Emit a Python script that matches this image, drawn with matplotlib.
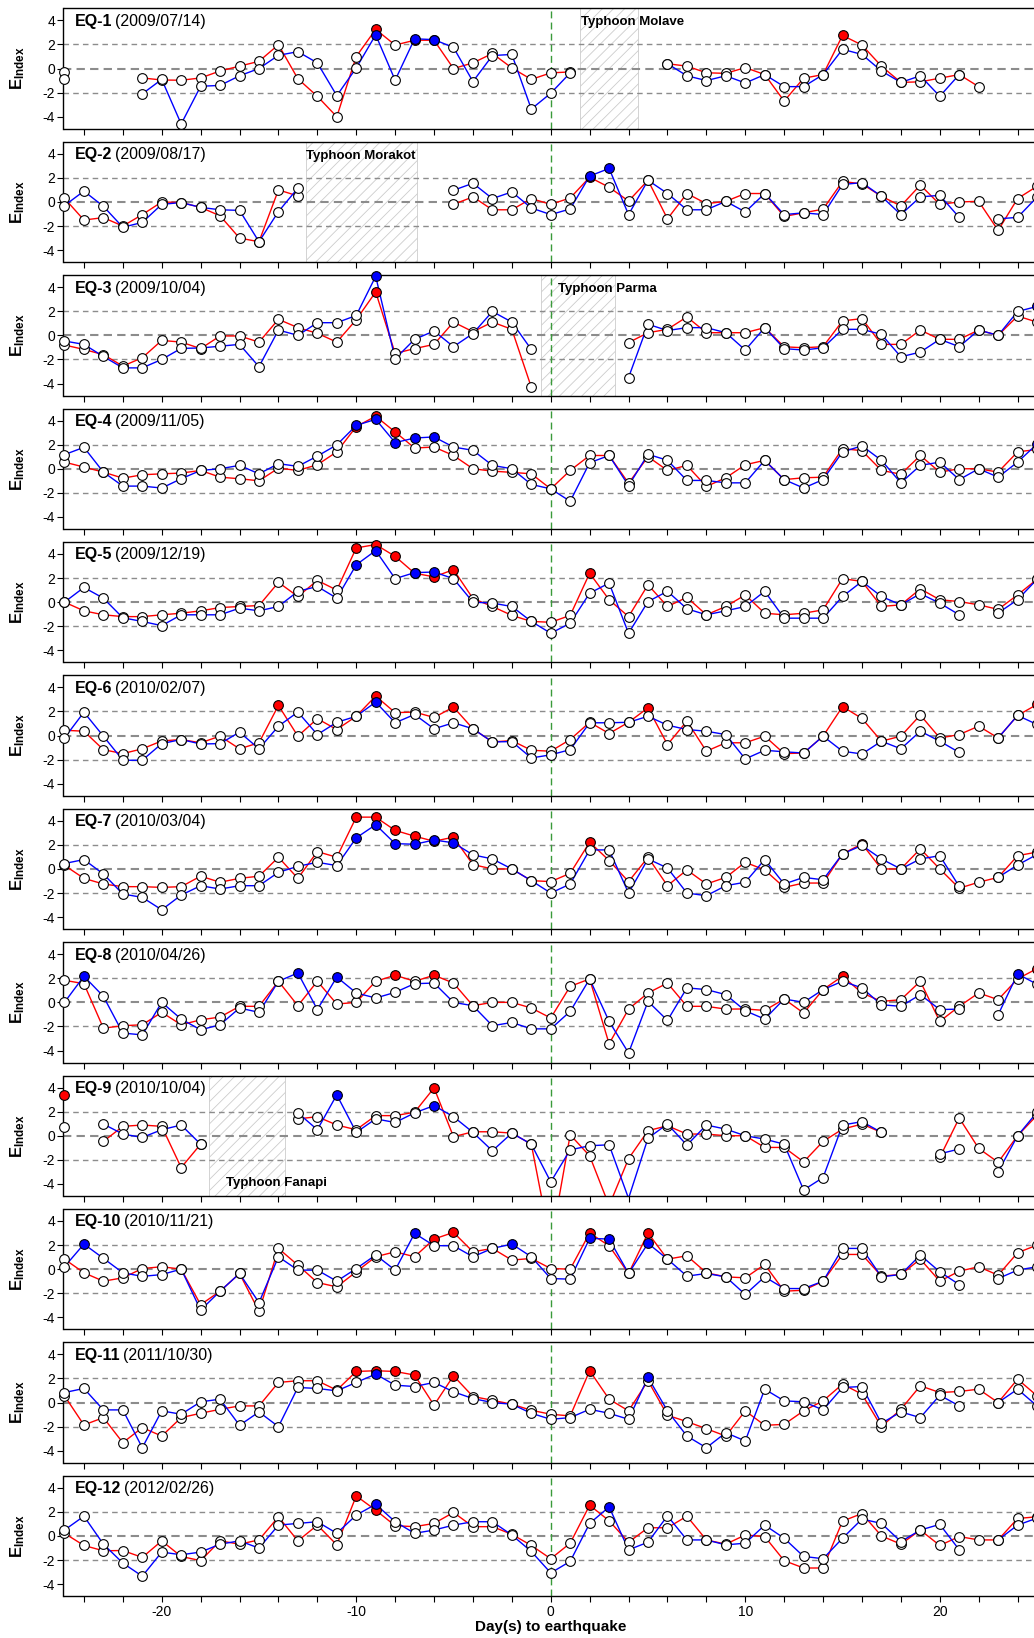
import numpy as np
import matplotlib.pyplot as plt
from matplotlib.patches import Rectangle

plt.rcParams['font.family'] = ['Liberation Sans', 'DejaVu Sans']
plt.rcParams['mathtext.fontset'] = 'custom'
plt.rcParams['mathtext.rm'] = 'Liberation Sans'
plt.rcParams['mathtext.bf'] = 'Liberation Sans:bold'
plt.rcParams['axes.unicode_minus'] = False
plt.rcParams['hatch.linewidth'] = 0.6

nan = np.nan
days = np.arange(-25, 26)

eq_names = ['EQ-1', 'EQ-2', 'EQ-3', 'EQ-4', 'EQ-5', 'EQ-6',
            'EQ-7', 'EQ-8', 'EQ-9', 'EQ-10', 'EQ-11', 'EQ-12']
eq_dates = ['2009/07/14', '2009/08/17', '2009/10/04', '2009/11/05', '2009/12/19', '2010/02/07',
            '2010/03/04', '2010/04/26', '2010/10/04', '2010/11/21', '2011/10/30', '2012/02/26']

# values for days -25 ... 25
eq1_red = [-0.3, nan, nan, nan, -0.78, -0.95, -0.97, -0.78, -0.2, 0.2, 0.6, 1.98, -0.85, -2.3, -4.0, 1.0,
           3.25, 1.95, 2.35, 2.35, 0.0, 0.47, 1.25, 0.05, -0.9, -0.36, -0.28, nan, nan, nan, nan,
           0.4, 0.2, -0.35, -0.4, 0.08, -0.5, -2.7, -0.8, -0.5, 2.75, 1.95, 0.2, -1.15, -1.1, -0.8, -0.5, -1.5,
           nan, nan, nan]
eq1_blue = [-0.85, nan, nan, nan, -2.1, -0.9, -4.6, -1.47, -1.4, -0.6, 0.0, 1.1, 1.4, 0.47, -2.25, 0.05,
            2.8, -0.97, 2.47, 2.4, 1.75, -1.08, 1.08, 1.17, -3.36, -2.05, -0.36, nan, nan, nan, nan,
            0.4, -0.6, -1.0, -0.6, -1.2, -0.5, -1.5, -1.5, -0.5, 1.6, 1.17, -0.2, -1.15, -0.6, -2.3, -0.5, nan,
            nan, nan, nan]

eq2_red = [0.3, -1.5, -1.3, -2.0, -1.05, 0.0, -0.05, -0.45, -1.15, -3.0, -3.3, 1.0, 0.5,
           nan, nan, nan, nan, nan, nan, nan, -0.2, 0.42, -0.65, -0.65, 0.28, -0.2, 0.33,
           2.05, 1.22, 0.08, 1.8, -1.4, 0.7, -0.14, 0.05, 0.7, 0.7, -1.2, -0.9, -0.6, 1.7, 1.5, 0.47,
           -0.33, 1.4, -0.2, 0.0, 0.05, -2.36, 0.28, 1.3]
eq2_blue = [-0.3, 0.9, -0.36, -2.1, -1.7, -0.2, -0.05, -0.45, -0.65, -0.7, -3.3, -0.8, 1.15,
            nan, nan, nan, nan, nan, nan, nan, 0.97, 1.55, 0.28, 0.83, -0.5, -1.05, -0.58,
            2.15, 2.78, -1.05, 1.8, 0.7, -0.65, -0.65, 0.05, -0.83, 0.7, -1.05, -0.9, -1.05, 1.45, 1.6, 0.47,
            -1.05, 0.42, 0.55, -1.28, nan, -1.4, -1.28, 0.4]

eq3_red = [-0.8, -1.17, -1.6, -2.55, -1.86, -0.42, -0.56, -1.1, -0.05, -0.05, -0.56, 1.33, 0.64, 0.17,
           -0.56, 1.3, 3.6, -1.5, -1.1, -0.75, 1.1, 0.3, 1.1, 0.5, -4.3, nan, nan, nan, nan,
           -0.6, 0.22, 0.5, 1.53, 0.22, 0.22, 0.22, 0.64, -0.95, -1.03, -0.94, 1.2, 1.39, -0.75, -0.75,
           0.44, -0.33, -0.33, 0.44, 0.0, 1.6, 1.1]
eq3_blue = [-0.47, -0.75, -1.75, -2.7, -2.7, -2.0, -1.08, -1.05, -0.9, -0.75, -2.6, 0.44, 0.0, 1.05,
            1.05, 1.65, 4.9, -1.95, -0.33, 0.36, -0.94, 0.15, 1.98, 1.1, -1.17, nan, nan, nan, nan,
            -3.5, 0.92, 0.4, 0.64, 0.64, 0.22, -1.22, 0.64, -1.1, -1.22, -1.03, 0.5, 0.5, 0.08, -1.78,
            -1.39, -0.33, -0.94, 0.44, 0.0, 1.98, 2.4]

eq4_red = [0.55, 0.14, -0.28, -0.78, -0.5, -0.42, -0.36, -0.14, -0.7, -0.83, -1.0, 0.05, -0.14, 0.33,
           1.4, 3.5, 4.36, 3.05, 1.72, 1.8, 1.1, 0.0, -0.2, -0.3, -0.42, -1.67, -0.14, 1.1, 1.1, -1.2,
           1.0, -0.14, 0.28, -1.47, -0.75, 0.33, 0.7, -0.9, -0.75, -0.7, 1.67, 1.5, -0.14, -0.45, 1.1,
           -0.28, 0.0, 0.0, -0.28, 1.4, 1.6]
eq4_blue = [1.17, 1.78, -0.28, -1.44, -1.44, -1.6, -0.83, -0.14, 0.0, 0.28, -0.42, 0.42, 0.2, 1.05,
            1.98, 3.6, 4.1, 2.17, 2.55, 2.64, 1.8, 1.53, 0.28, 0.0, -1.3, -1.67, -2.7, 0.5, 1.1, -1.4,
            1.2, 0.7, -0.97, -0.97, -1.17, -1.17, 0.7, -0.9, -1.6, -0.9, 1.4, 1.9, 0.7, -1.17, 0.28,
            0.55, -0.9, 0.0, -0.7, 0.55, 2.05]

eq5_red = [0.0, -0.72, -1.05, -1.2, -1.2, -1.05, -0.92, -0.72, -0.45, -0.36, -0.28, 1.64, 0.47, 1.8,
           1.0, 4.5, 4.78, 3.8, 2.4, 2.1, 2.7, 0.3, -0.36, -1.1, -1.6, -1.67, -1.1, 2.4, 0.2, -1.2,
           1.44, -0.36, 0.4, -1.05, -0.36, 0.6, -0.92, -1.05, -0.92, -0.64, 1.95, 1.72, -0.36, -0.22,
           1.1, 0.2, 0.05, -0.22, -0.6, 0.6, 1.9]
eq5_blue = [0.0, 1.22, 0.33, -1.3, -1.6, -1.95, -1.05, -1.05, -1.05, -0.5, -0.72, -0.36, 0.9, 1.3,
            0.33, 3.1, 4.28, 1.95, 2.45, 2.5, 1.95, 0.0, -0.08, -0.36, -1.6, -2.58, -1.75, 0.75, 1.58,
            -2.58, 0.05, 0.9, -0.55, -1.05, -0.72, -0.36, 0.9, -1.33, -1.33, -1.33, 0.47, 1.72, 0.47,
            -0.22, 0.7, -0.08, -1.05, nan, -0.9, 0.2, 1.9]

eq6_red = [0.44, 0.36, -1.17, -1.5, -1.1, -0.45, -0.33, -0.6, -0.05, -1.1, -0.6, 2.5, -0.05, 1.4,
           0.5, 1.6, 3.28, 1.9, 1.95, 1.5, 2.36, 0.56, -0.53, -0.42, -1.22, -1.3, -0.33, 1.1, 0.17,
           1.1, 2.3, -0.75, 1.2, -1.3, -0.6, -0.6, -0.05, -1.5, -1.45, -0.05, 2.4, 1.42, -0.47, -0.05,
           1.7, -0.2, 0.08, 0.78, -0.2, 1.67, 2.58]
eq6_blue = [-0.2, 1.94, -0.05, -2.05, -2.05, -0.67, -0.33, -0.7, -0.67, 0.28, -1.1, 0.78, 1.95, 0.08,
            1.1, 1.6, 2.78, 1.06, 1.75, 0.56, 1.06, 0.56, -0.53, -0.5, -1.86, -1.6, -1.17, 1.06, 1.06,
            1.1, 1.6, 0.86, 0.5, 0.36, 0.08, -1.94, -1.22, -1.35, -1.45, -0.05, -1.3, -1.53, -0.47, -1.1,
            0.36, -0.47, -1.4, nan, -0.2, 1.67, 0.92]

eq7_red = [0.3, -0.78, -1.25, -1.47, -1.47, -1.53, -1.47, -0.6, -1.1, -0.78, -0.6, 0.97, -0.78, 1.44,
           0.97, 4.3, 4.3, 3.2, 2.72, 2.3, 2.64, 0.36, 0.0, 0.0, -0.97, -1.05, -0.36, 2.22, 0.7, -1.05,
           0.97, -1.39, -0.08, -1.25, -0.7, 0.55, -0.08, -1.53, -1.17, -1.17, 1.25, 2.08, 0.0, 0.0,
           1.67, 0.0, -1.6, -1.1, -0.7, 1.1, 1.4]
eq7_blue = [0.45, 0.78, -0.42, -2.08, -2.36, -3.39, -2.17, -1.39, -1.67, -1.39, -1.39, -0.28, 0.22, 0.55,
            0.28, 2.58, 3.67, 2.1, 2.05, 2.4, 2.17, 1.17, 0.83, 0.0, -0.97, -2.0, -1.25, 1.58, 1.58, -2.0,
            0.83, 0.08, -2.0, -2.22, -1.39, -1.1, 0.78, -1.25, -0.7, -0.9, 1.25, 1.95, 0.83, 0.0,
            0.83, 1.1, -1.45, nan, -0.7, 0.33, 1.2]

eq8_red = [1.83, 1.55, -2.14, -1.94, -1.86, -0.83, -1.86, -1.45, -1.22, -0.33, -0.33, 1.75, -0.28, 1.75,
           -0.14, 0.0, 1.75, 2.25, 1.75, 2.25, 1.6, -0.28, 0.0, 0.0, -0.47, -1.3, 1.33, 1.94, -3.44, -0.56,
           0.78, 1.6, -0.33, -0.33, -0.56, -0.55, -0.67, 0.28, -0.89, 1.06, 2.17, 0.78, 0.08, 0.22,
           1.75, -1.58, -0.33, 0.78, 0.22, 1.95, 2.8]
eq8_blue = [0.0, 2.17, 0.5, -2.55, -2.7, 0.0, -1.39, -2.28, -1.86, -0.47, -0.83, 1.75, 2.44, -0.6,
            2.1, 0.78, 0.36, 0.83, 1.55, 1.6, 0.0, -0.28, -1.94, -1.67, -2.2, -2.2, -0.75, 1.94, -1.58, -4.2,
            0.08, -1.5, 1.2, 1.06, 0.64, -0.7, -1.39, 0.28, 0.0, 1.06, 1.75, 1.2, -0.2, -0.33,
            0.64, -0.6, -0.56, nan, -1.03, 2.36, 1.5]

eq9_red = [3.4, nan, -0.47, 0.78, 0.89, 0.78, -2.64, -0.7, nan, nan, nan, nan, 1.4, 1.58, 0.89, 0.5,
           1.67, 1.67, 1.95, 3.97, -0.08, 0.33, 0.33, 0.22, -0.7, -9.0, 0.08, -1.67, -5.8, -1.9,
           0.42, 0.83, 0.14, 0.14, 0.0, 0.0, -0.97, -0.97, -2.17, -0.47, 0.55, 0.97, 0.28, nan, nan,
           -1.8, 1.47, -1.05, -2.2, 0.0, 1.7]
eq9_blue = [0.7, nan, 0.97, 0.14, -0.14, 0.5, 0.89, -0.7, nan, nan, nan, nan, 1.9, 0.5, 3.4, 0.28,
            1.4, 1.1, 1.9, 2.5, 1.58, 0.28, -1.25, 0.22, -0.7, -3.83, -1.17, -0.83, -0.75, -5.2,
            -0.2, 0.97, -0.78, 0.89, 0.55, 0.0, -0.28, -0.7, -4.5, -3.47, 0.89, 1.17, 0.28, nan, nan,
            -1.5, -1.1, nan, -3.0, 0.0, 1.95]

eq10_red = [0.83, -0.3, -1.0, -0.72, 0.05, 0.2, 0.0, -2.95, -1.83, -0.36, -3.5, 1.72, 0.33, -1.11,
            -1.47, -0.22, 1.03, 1.44, 1.03, 2.5, 3.05, 1.44, 1.72, 0.75, 0.89, 0.05, 0.0, 3.0, 1.94, -0.36,
            3.0, 0.83, 1.11, -0.3, -0.64, -0.72, 0.39, -1.83, -1.75, -1.0, 1.22, 1.22, -0.58, -0.44,
            0.83, -1.0, -0.17, 0.2, -0.5, 1.36, 2.0]
eq10_blue = [0.2, 2.08, 0.9, -0.3, -0.6, -0.45, 0.0, -3.4, -1.83, -0.36, -2.78, 1.03, -0.08, -0.08,
             -1.0, 0.05, 1.17, -0.08, 2.97, 1.95, 1.94, 1.03, 1.72, 2.08, 1.03, -0.78, -0.83, 2.55, 2.5, -0.36,
             2.14, 0.83, -0.58, -0.36, -0.64, -2.1, -0.64, -1.61, -1.61, -1.0, 1.72, 1.72, -0.64, -0.44,
             1.17, -0.22, -1.28, nan, -0.78, -0.08, 0.2]

eq11_red = [0.56, -1.86, -1.25, -3.33, -2.08, -2.78, -1.25, -0.89, -0.56, -0.28, -0.28, 1.67, 1.81, 1.81,
            1.03, 2.58, 2.64, 2.58, 2.28, -0.22, 2.22, 0.5, 0.19, -0.14, -0.64, -0.97, -1.11, 2.64, 0.28,
            -0.69, 1.81, -1.06, -1.58, -2.17, -2.78, -0.69, -1.89, -1.81, -0.69, 0.14, 1.53, 0.69, -2.0,
            -0.56, 1.39, 0.83, 0.92, 1.11, 0.0, 1.94, 0.56]
eq11_blue = [0.83, 1.17, -0.61, -0.61, -3.75, -0.69, -0.97, 0.06, 0.28, -1.89, -0.78, -2.0, 1.25, 1.17,
             0.97, 1.67, 2.36, 1.44, 1.33, 1.67, 0.89, 0.33, 0.0, -0.14, -0.89, -1.39, -1.25, -0.56, -0.89,
             -1.39, 2.08, -0.69, -2.78, -3.75, -2.5, -3.19, 1.11, 0.14, 0.06, -0.61, 1.25, 1.33, -1.72,
             -0.78, -1.25, 0.61, -0.28, nan, 0.0, 1.11, -0.28]

eq12_red = [0.22, -0.79, -1.23, -1.21, -1.78, -0.41, -1.7, -2.05, -0.41, -0.68, -0.33, 1.59, -0.41, 0.9,
            -0.74, 3.32, 2.14, 0.85, 0.77, 1.04, 1.95, 0.77, 0.77, 0.14, -0.79, -1.89, -0.6, 2.55, 1.26,
            -0.52, 0.68, 0.68, 1.64, -0.33, -0.68, 0.08, -0.05, -2.05, -2.66, -2.66, 1.23, 1.86, 0.0,
            -0.68, 0.49, -0.79, -0.05, -0.33, -0.33, 1.45, 1.59]
eq12_blue = [0.49, 1.64, -0.68, -2.25, -3.34, -1.34, -1.56, -1.34, -0.68, -0.41, -1.01, 0.9, 1.04, 1.18,
             0.22, 1.73, 2.63, 1.18, 0.22, 0.49, 0.9, 1.18, 1.18, 0.08, -1.29, -3.07, -2.11, 1.04, 2.41,
             -1.15, -0.52, 1.67, -0.33, -0.33, -0.74, -0.6, 0.9, -0.19, -1.7, -1.89, -0.19, 1.4, 1.04,
             -0.47, 0.49, 0.96, -1.15, nan, -0.33, 0.9, 1.48]

red_series = [eq1_red, eq2_red, eq3_red, eq4_red, eq5_red, eq6_red,
              eq7_red, eq8_red, eq9_red, eq10_red, eq11_red, eq12_red]
blue_series = [eq1_blue, eq2_blue, eq3_blue, eq4_blue, eq5_blue, eq6_blue,
               eq7_blue, eq8_blue, eq9_blue, eq10_blue, eq11_blue, eq12_blue]

# panel index: (label, start day, end day, text x, text y)
typhoons = {0: ('Typhoon Molave', 1.5, 4.5, 1.55, 3.85),
            1: ('Typhoon Morakot', -12.6, -6.9, -12.6, 3.85),
            2: ('Typhoon Parma', -0.5, 3.3, 0.35, 3.85),
            8: ('Typhoon Fanapi', -17.55, -13.65, -16.7, -3.95)}

threshold = 2.0
ylo, yhi = -5.0, 5.0

W, H = 1034, 1638
fig = plt.figure(figsize=(W / 100, H / 100), dpi=100)
left_px, right_px = 63.5, 1038.0
top0, step, ph = 8.3, 133.4, 120.5
aw = right_px - left_px

renderer = fig.canvas.get_renderer()

for i in range(12):
    top = top0 + step * i
    ax = fig.add_axes([left_px / W, 1 - (top + ph) / H, aw / W, ph / H])
    ax.set_xlim(-25.05, 25.05)
    ax.set_ylim(ylo, yhi)

    if i in typhoons:
        name, x0, x1, tx, ty = typhoons[i]
        ax.add_patch(Rectangle((x0, ylo), x1 - x0, yhi - ylo, facecolor='none',
                               edgecolor='#cccccc', hatch='///', lw=0.6, zorder=0.5))
        ax.text(tx, ty, name, fontsize=9.5, fontweight='bold', ha='left', va='center', zorder=6)

    for lev in (2, -2):
        ax.axhline(lev, color='#8c8c8c', lw=1.0, dashes=(4, 3), zorder=1)
    ax.axhline(0, color='#8c8c8c', lw=1.5, dashes=(4, 2.5), zorder=1)
    ax.axvline(0, color='#3a9a3a', lw=1.0, dashes=(5, 3), zorder=1.2)

    r = np.array(red_series[i], dtype=float)
    b = np.array(blue_series[i], dtype=float)
    ax.plot(days, r, color='red', lw=1.0, zorder=2)
    ax.plot(days, b, color='blue', lw=1.0, zorder=2.5)
    for vals, col, z in ((r, 'red', 3), (b, 'blue', 3.5)):
        inside = (vals >= ylo) & (vals <= yhi)
        opn = inside & (vals <= threshold)
        fil = inside & (vals > threshold)
        ax.plot(days[opn], vals[opn], 'o', ms=7, mfc='white', mec='black', mew=0.8,
                ls='none', zorder=z, clip_on=False)
        ax.plot(days[fil], vals[fil], 'o', ms=7, mfc=col, mec='black', mew=0.8,
                ls='none', zorder=z + 0.1, clip_on=False)

    ax.spines['right'].set_visible(False)
    for s in ('left', 'top', 'bottom'):
        ax.spines[s].set_linewidth(1.0)
    ax.set_yticks([-4, -2, 0, 2, 4])
    ax.set_xticks(np.arange(-24, 25, 2))
    if i == 11:
        ax.set_xticklabels([str(d) if d % 10 == 0 else '' for d in np.arange(-24, 25, 2)])
        ax.set_xlabel('Day(s) to earthquake', fontsize=11, fontweight='bold', labelpad=1)
    else:
        ax.set_xticklabels([])
    ax.tick_params(axis='both', direction='out', length=4, width=0.8, labelsize=10, pad=2)
    ax.set_ylabel(r'$\mathbf{E_{Index}}$', fontsize=12)
    ax.yaxis.set_label_coords(-(left_px - 27) / aw, 0.5)

    t1 = ax.text(11 / aw, 1 - 13 / ph, eq_names[i], transform=ax.transAxes, fontsize=11.5,
                 fontweight='bold', ha='left', va='center', zorder=6)
    bb = t1.get_window_extent(renderer)
    ax.text(11 / aw + (bb.width + 3) / aw, 1 - 13 / ph, '(' + eq_dates[i] + ')',
            transform=ax.transAxes, fontsize=11.5, ha='left', va='center', zorder=6)

fig.savefig('out.png', dpi=100)
